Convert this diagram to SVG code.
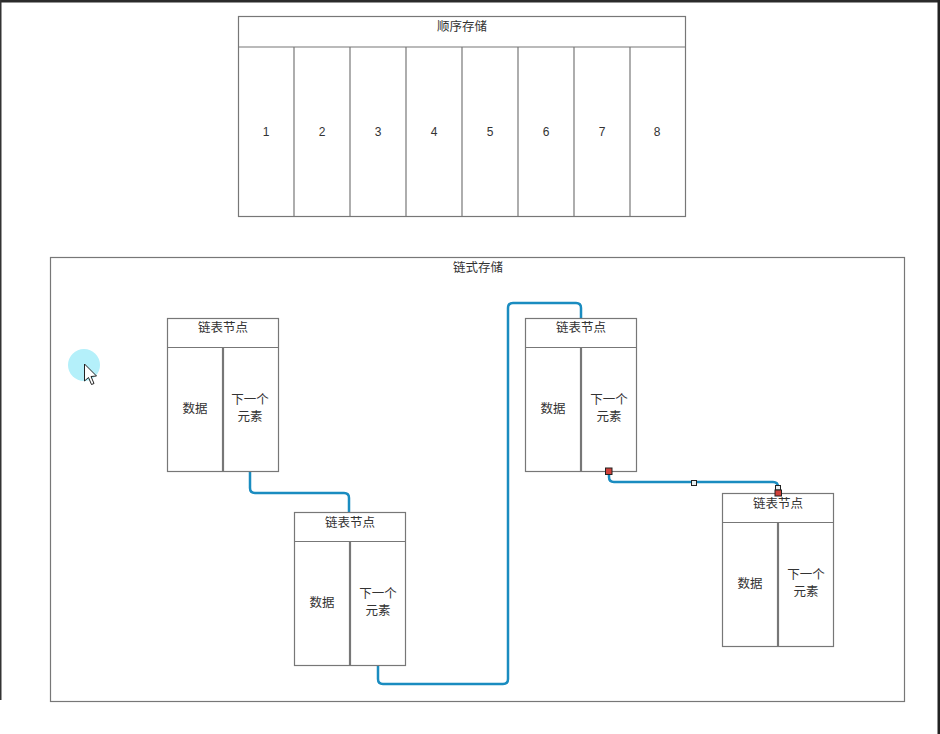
<svg xmlns="http://www.w3.org/2000/svg" width="940" height="734" viewBox="0 0 940 734">
<style>
.box{fill:#fff;stroke:#777;stroke-width:1.2}
.ln{stroke:#777;stroke-width:1.2;fill:none}
.dv{stroke:#777;stroke-width:2.2;fill:none}
.t{font-family:"Liberation Sans","Noto Sans CJK SC",sans-serif;font-size:12px;fill:#333;text-anchor:middle}
.z{font-size:12.5px}
.c{fill:none;stroke:#1a8cc0;stroke-width:2.5;stroke-linejoin:round}
.h{stroke:#222;stroke-width:1}
</style>
<rect x="0" y="0" width="940" height="734" fill="#fff"/>
<rect x="0" y="0" width="940" height="2.5" fill="#2b2b2b"/>
<rect x="937.5" y="0" width="2.5" height="734" fill="#222"/>
<rect x="0" y="0" width="1.5" height="700" fill="#333"/>

<g id="seq">
<rect class="box" x="238.5" y="16.5" width="447" height="200"/>
<line class="ln" x1="238.5" y1="47" x2="685.5" y2="47"/>
<line class="ln" x1="294" y1="47" x2="294" y2="216.5"/>
<line class="ln" x1="350" y1="47" x2="350" y2="216.5"/>
<line class="ln" x1="406" y1="47" x2="406" y2="216.5"/>
<line class="ln" x1="462" y1="47" x2="462" y2="216.5"/>
<line class="ln" x1="518" y1="47" x2="518" y2="216.5"/>
<line class="ln" x1="574" y1="47" x2="574" y2="216.5"/>
<line class="ln" x1="630" y1="47" x2="630" y2="216.5"/>
<text class="t z" x="462" y="31">顺序存储</text>
<text class="t" x="266" y="136">1</text>
<text class="t" x="322" y="136">2</text>
<text class="t" x="378" y="136">3</text>
<text class="t" x="434" y="136">4</text>
<text class="t" x="490" y="136">5</text>
<text class="t" x="546" y="136">6</text>
<text class="t" x="602" y="136">7</text>
<text class="t" x="657" y="136">8</text>
</g>

<g id="chain">
<rect class="box" x="50.5" y="257.5" width="854" height="444"/>
<text class="t z" x="478" y="272">链式存储</text>
</g>

<g id="connectors">
<path class="c" d="M250 471 V488 Q250 493 255 493 H344 Q349 493 349 498 V512"/>
<path class="c" d="M378 665 V679 Q378 684 383 684 H503 Q508 684 508 679 V308 Q508 303 513 303 H576 Q581 303 581 308 V318"/>
<path class="c" d="M609 471 V477 Q609 482 614 482 H773 Q778 482 778 487 V493"/>
</g>

<g id="node1">
<rect class="box" x="167.5" y="318.5" width="111" height="153"/>
<line class="ln" x1="167.5" y1="347.5" x2="278.5" y2="347.5"/>
<line class="dv" x1="223" y1="347.5" x2="223" y2="471.5"/>
<text class="t z" x="223" y="332">链表节点</text>
<text class="t z" x="195" y="413">数据</text>
<text class="t z" x="250" y="404">下一个</text>
<text class="t z" x="250" y="421">元素</text>
</g>

<g id="node2">
<rect class="box" x="294.5" y="512.5" width="111" height="153"/>
<line class="ln" x1="294.5" y1="541.5" x2="405.5" y2="541.5"/>
<line class="dv" x1="350" y1="541.5" x2="350" y2="665.5"/>
<text class="t z" x="350" y="527">链表节点</text>
<text class="t z" x="322" y="607">数据</text>
<text class="t z" x="378" y="598">下一个</text>
<text class="t z" x="378" y="615">元素</text>
</g>

<g id="node3">
<rect class="box" x="525.5" y="318.5" width="111" height="153"/>
<line class="ln" x1="525.5" y1="347.5" x2="636.5" y2="347.5"/>
<line class="dv" x1="581" y1="347.5" x2="581" y2="471.5"/>
<text class="t z" x="581" y="332">链表节点</text>
<text class="t z" x="553" y="413">数据</text>
<text class="t z" x="609" y="404">下一个</text>
<text class="t z" x="609" y="421">元素</text>
</g>

<g id="node4">
<rect class="box" x="722.5" y="493.5" width="111" height="153"/>
<line class="ln" x1="722.5" y1="522.5" x2="833.5" y2="522.5"/>
<line class="dv" x1="778" y1="522.5" x2="778" y2="646.5"/>
<text class="t z" x="778" y="508">链表节点</text>
<text class="t z" x="750" y="588">数据</text>
<text class="t z" x="806" y="579">下一个</text>
<text class="t z" x="806" y="596">元素</text>
</g>

<g id="handles">
<rect class="h" x="605.5" y="468" width="6.5" height="6.5" fill="#d0413a"/>
<rect class="h" x="691.5" y="480.5" width="5" height="5" fill="#e8eef0"/>
<rect class="h" x="775.5" y="485.5" width="5" height="4.5" fill="#e8eef0"/>
<rect class="h" x="775" y="490" width="6.5" height="6" fill="#d0413a"/>
</g>

<g id="cursor">
<circle cx="84" cy="365" r="16" fill="#b4f0fa"/>
<path d="M84.5 364 V381 L88.5 377.5 L91.5 384.5 L94 383.5 L91 376.5 L96.5 376 Z" fill="#fff" stroke="#222" stroke-width="1" stroke-linejoin="round"/>
</g>
</svg>
